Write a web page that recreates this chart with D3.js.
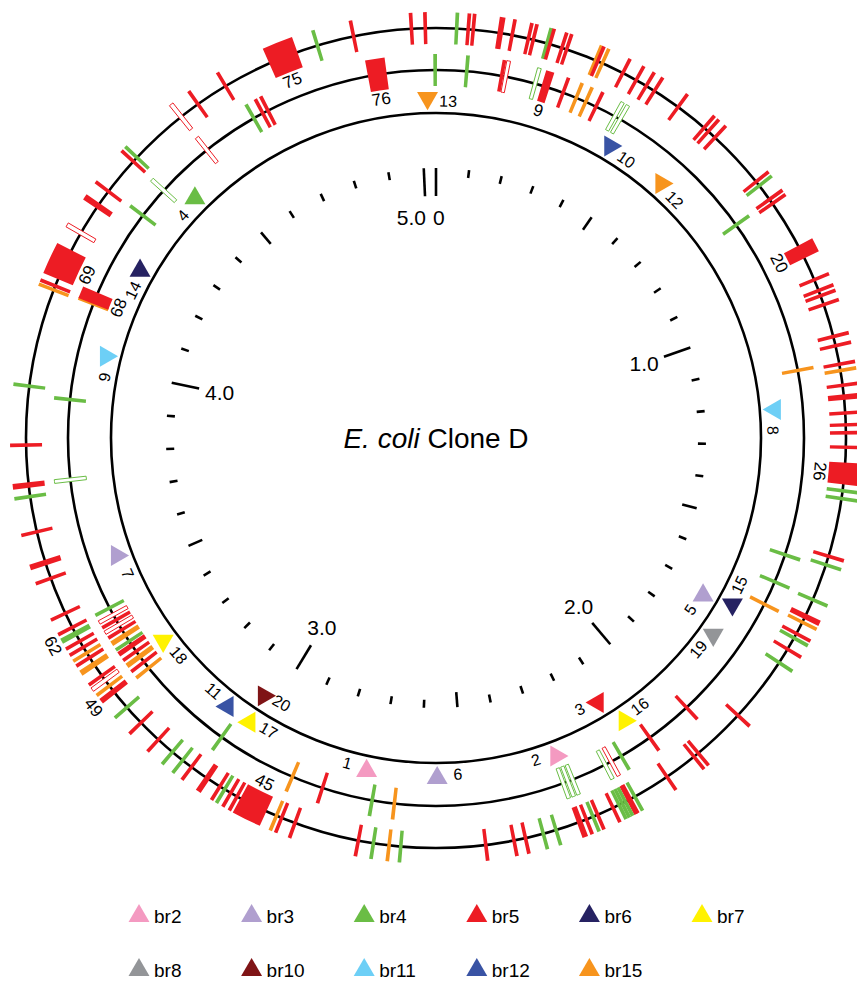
<!DOCTYPE html>
<html>
<head>
<meta charset="utf-8">
<script src="https://cdn.jsdelivr.net/npm/d3@7"></script>
<style>
  body { margin: 0; background: #fff; }
  text { font-family: "Liberation Sans", Arial, sans-serif; fill: #000; }
</style>
</head>
<body>
<svg id="chart" width="857" height="988"></svg>
<script>
// genome coordinate (Mb) -> angle (deg)
const genomeLength = 5.04
const tickMb = [0, 1, 2, 3, 4, 5, genomeLength]
const tickDeg = [0, 70.4, 139.8, 211.1, 281.8, 357.4, 360]

// [position Mb, length kb, type, style]
const outerFeatures = [
  [4.989, 6, 'red'], [5.017, 6, 'red'],
  [0.041, 6, 'green'], [0.064, 6, 'red'], [0.074, 6, 'red'], [0.128, 11, 'red'], [0.152, 6, 'red'],
  [0.185, 6, 'red'], [0.195, 6, 'red'], [0.223, 6, 'green'], [0.229, 6, 'red'], [0.254, 6, 'red'],
  [0.264, 6, 'red'], [0.325, 6, 'orange'], [0.330, 6, 'red'], [0.340, 6, 'orange'], [0.385, 6, 'red'],
  [0.415, 6, 'red'], [0.438, 6, 'red'], [0.457, 6, 'red'], [0.514, 6, 'red'], [0.580, 6, 'red'],
  [0.591, 6, 'red'], [0.609, 6, 'red'], [0.729, 6, 'red'], [0.739, 6, 'green'], [0.773, 6, 'red'],
  [0.783, 6, 'red'], [0.895, 28, 'red'], [0.956, 6, 'red'], [0.979, 6, 'red'], [0.990, 6, 'red'],
  [1.009, 6, 'red'], [1.076, 6, 'red'], [1.095, 6, 'red'], [1.133, 6, 'red'], [1.146, 6, 'orange'],
  [1.176, 6, 'red'], [1.200, 11, 'red'], [1.232, 6, 'red'], [1.256, 6, 'red'], [1.272, 6, 'red'],
  [1.301, 6, 'red'], [1.354, 44, 'red'], [1.389, 6, 'green'], [1.405, 6, 'green'], [1.524, 6, 'red'],
  [1.542, 6, 'green'], [1.617, 6, 'green'], [1.654, 11, 'red'], [1.667, 6, 'orange'], [1.693, 6, 'red'],
  [1.703, 6, 'green'], [1.729, 6, 'red'], [1.761, 6, 'green'], [1.896, 6, 'red'],
  [2.006, 6, 'red'], [2.017, 6, 'red'], [2.083, 6, 'red'], [2.157, 6, 'green'], [2.167, 6, 'red'],
  [2.171, 6, 'red'], [2.178, 6, 'green'], [2.185, 6, 'green'], [2.192, 6, 'green'], [2.205, 6, 'red'],
  [2.238, 6, 'red'], [2.248, 6, 'green'], [2.262, 6, 'red'], [2.276, 11, 'red'], [2.325, 6, 'green'],
  [2.351, 6, 'green'], [2.387, 6, 'red'], [2.410, 6, 'red'], [2.466, 6, 'red'], [2.633, 6, 'green'],
  [2.656, 6, 'orange'], [2.687, 6, 'green'], [2.717, 6, 'red'], [2.846, 6, 'red'], [2.874, 6, 'red'],
  [2.885, 6, 'orange'], [2.935, 57, 'red'], [2.971, 6, 'red'], [2.985, 6, 'red'], [2.999, 6, 'green'],
  [3.010, 6, 'red'], [3.040, 11, 'red'], [3.078, 6, 'red'], [3.100, 6, 'green'], [3.126, 6, 'green'],
  [3.163, 6, 'red'], [3.211, 6, 'red'], [3.252, 6, 'green'],
  [3.293, 11, 'red'], [3.307, 6, 'orange'], [3.321, 8, 'red', 'hollow'], [3.332, 6, 'red'],
  [3.359, 11, 'orange'], [3.375, 6, 'red'], [3.386, 6, 'orange'], [3.399, 6, 'red'], [3.413, 6, 'red'],
  [3.430, 11, 'green'], [3.444, 6, 'red'],
  [3.475, 6, 'red'], [3.550, 6, 'red'], [3.583, 11, 'red'], [3.646, 6, 'red'], [3.717, 6, 'green'],
  [3.740, 11, 'red'], [3.819, 6, 'red'], [3.936, 6, 'green'], [4.124, 5, 'orange'], [4.132, 6, 'red'],
  [4.175, 59, 'red'], [4.241, 8, 'red', 'hollow'], [4.300, 11, 'red'], [4.333, 6, 'red'], [4.405, 6, 'red'],
  [4.415, 6, 'green'], [4.526, 8, 'red', 'hollow'], [4.565, 6, 'red'], [4.626, 6, 'red'],
  [4.745, 56, 'red'], [4.812, 6, 'green'], [4.881, 6, 'red']
]

const middleFeatures = [
  [4.913, 39, 'red'], [5.038, 6, 'green'], [0.068, 6, 'green'], [0.146, 6, 'red'], [0.155, 6, 'red', 'hollow'],
  [0.222, 8, 'green', 'hollow'], [0.246, 18, 'red'], [0.287, 6, 'red'], [0.318, 6, 'orange'],
  [0.341, 6, 'orange'], [0.366, 6, 'red'], [0.413, 8, 'green', 'hollow'], [0.426, 8, 'green', 'hollow'],
  [0.776, 6, 'green'], [1.130, 6, 'orange'], [1.549, 6, 'green'], [1.614, 6, 'green'], [1.669, 6, 'orange'],
  [1.961, 6, 'red'], [2.066, 6, 'red'], [2.140, 6, 'green'], [2.165, 8, 'red', 'hollow'],
  [2.180, 8, 'green', 'hollow'], [2.258, 8, 'green', 'hollow'], [2.269, 8, 'green', 'hollow'],
  [2.280, 8, 'green', 'hollow'], [2.655, 6, 'orange'], [2.704, 6, 'green'], [2.816, 6, 'red'],
  [2.886, 6, 'orange'], [3.064, 6, 'green'],
  [3.286, 6, 'orange'], [3.303, 6, 'red'], [3.318, 11, 'orange'], [3.332, 6, 'red'], [3.348, 11, 'red'],
  [3.359, 6, 'green'], [3.375, 11, 'orange'], [3.389, 6, 'red'], [3.402, 8, 'red', 'hollow'],
  [3.414, 6, 'red'], [3.427, 8, 'red', 'hollow'], [3.444, 6, 'green'],
  [3.741, 8, 'green', 'hollow'], [3.918, 6, 'green'], [4.127, 5, 'orange'], [4.139, 25, 'red'],
  [4.336, 6, 'green'], [4.403, 8, 'green', 'hollow'], [4.525, 8, 'red', 'hollow'], [4.642, 6, 'green'],
  [4.663, 6, 'red'], [4.675, 6, 'red']
]

const featureLabels = [
  { text: '20', track: 'outer', pos: 0.895 },
  { text: '26', track: 'outer', pos: 1.354 },
  { text: '45', track: 'outer', pos: 2.935 },
  { text: '49', track: 'outer', pos: 3.293, outside: true },
  { text: '62', track: 'outer', pos: 3.430, outside: true },
  { text: '69', track: 'outer', pos: 4.175 },
  { text: '75', track: 'outer', pos: 4.745 },
  { text: '76', track: 'middle', pos: 4.913 },
  { text: '9', track: 'middle', pos: 0.246 },
  { text: '68', track: 'middle', pos: 4.139 }
]

// breakpoints: label, group, position Mb, ring, pointing, label side
const breakpoints = [
  { id: '13', group: 'br15', pos: 5.018, ring: 'out', dir: 'down', side: 1 },
  { id: '10', group: 'br12', pos: 0.438, ring: 'out', dir: 'right', side: 1 },
  { id: '12', group: 'br15', pos: 0.590, ring: 'out', dir: 'right', side: 1 },
  { id: '8', group: 'br11', pos: 1.213, ring: 'out', dir: 'left', side: 1 },
  { id: '15', group: 'br6', pos: 1.705, ring: 'out', dir: 'down', side: -1 },
  { id: '5', group: 'br3', pos: 1.722, ring: 'in', dir: 'up', side: 1 },
  { id: '19', group: 'br8', pos: 1.792, ring: 'out', dir: 'down', side: 1 },
  { id: '3', group: 'br5', pos: 2.123, ring: 'in', dir: 'left', side: 1 },
  { id: '16', group: 'br7', pos: 2.091, ring: 'out', dir: 'right', side: -1 },
  { id: '2', group: 'br2', pos: 2.273, ring: 'out', dir: 'right', side: 1 },
  { id: '6', group: 'br3', pos: 2.561, ring: 'out', dir: 'up', side: -1 },
  { id: '1', group: 'br2', pos: 2.729, ring: 'out', dir: 'up', side: 1 },
  { id: '17', group: 'br7', pos: 3.031, ring: 'out', dir: 'left', side: -1 },
  { id: '20', group: 'br10', pos: 3.037, ring: 'in', dir: 'right', side: -1 },
  { id: '11', group: 'br12', pos: 3.095, ring: 'out', dir: 'left', side: 1 },
  { id: '18', group: 'br7', pos: 3.315, ring: 'out', dir: 'down', side: -1 },
  { id: '7', group: 'br3', pos: 3.547, ring: 'out', dir: 'right', side: -1 },
  { id: '9', group: 'br11', pos: 4.028, ring: 'out', dir: 'right', side: -1 },
  { id: '14', group: 'br6', pos: 4.234, ring: 'out', dir: 'up', side: -1 },
  { id: '4', group: 'br4', pos: 4.437, ring: 'out', dir: 'up', side: -1 }
]

const groups = ['br2', 'br3', 'br4', 'br5', 'br6', 'br7', 'br8', 'br10', 'br11', 'br12', 'br15']
const groupColors = ['#f49ac1', '#b09fcf', '#6abd45', '#ed1c24', '#262262', '#fff200',
  '#939598', '#7f1416', '#6dcff6', '#3953a4', '#f7941d']

const cx = 436, cy = 438
const rInner = 325, rMid = 368, rOuter = 410
const ringR = { out: 340, in: 310 }
const minBarPx = 3.6

const svg = d3.select('#chart')
const g = svg.append('g').attr('transform', `translate(${cx},${cy})`)

const angle = d3.scaleLinear().domain(tickMb).range(tickDeg)
const typeColor = d3.scaleOrdinal().domain(['red', 'green', 'orange']).range(['#ed1c24', '#6abd45', '#f7941d'])
const groupColor = d3.scaleOrdinal().domain(groups).range(groupColors)

const rad = (a) => a * Math.PI / 180
const polar = (a, r) => [r * Math.sin(rad(a)), -r * Math.cos(rad(a))]
// keep text upright on the lower half
const upright = (a) => {
	a = ((a % 360) + 360) % 360
	if (a > 96 && a < 276) return a - 180
	return a > 180 ? a - 360 : a
}

// rings
g.selectAll('circle.ring')
	.data([rInner, rMid, rOuter])
	.join('circle')
		.attr('class', 'ring')
		.attr('r', (d) => d)
		.attr('fill', 'none')
		.attr('stroke', '#000')
		.attr('stroke-width', 2.6)

// scale ticks every 0.1 Mb
const ticks = d3.range(0, 51).map((i) => i / 10)
const tickIn = (d) => {
	const i = Math.round(d * 10)
	return i % 10 === 0 ? 242 : (i % 5 === 0 ? 255 : 262)
}
g.selectAll('line.tick')
	.data(ticks)
	.join('line')
		.attr('class', 'tick')
		.attr('x1', (d) => polar(angle(d), tickIn(d))[0])
		.attr('y1', (d) => polar(angle(d), tickIn(d))[1])
		.attr('x2', (d) => polar(angle(d), 270)[0])
		.attr('y2', (d) => polar(angle(d), 270)[1])
		.attr('stroke', '#000')
		.attr('stroke-width', 2.6)

const majors = [0, 1, 2, 3, 4, 5]
g.selectAll('text.tick-label')
	.data(majors)
	.join('text')
		.attr('class', 'tick-label')
		.attr('x', (d) => polar(angle(d), 221)[0] + (d === 0 ? -3 : 0))
		.attr('y', (d) => polar(angle(d), 221)[1])
		.attr('text-anchor', (d) => d === 0 ? 'start' : (d === 5 ? 'end' : 'middle'))
		.attr('dominant-baseline', 'central')
		.attr('font-size', 21)
		.text((d) => d === 0 ? '0' : d3.format('.1f')(d))

// feature tracks
const arc = d3.arc()
const drawTrack = (data, r, cls) => {
	const minDeg = minBarPx / r * 180 / Math.PI
	g.selectAll('path.' + cls)
		.data(data)
		.join('path')
			.attr('class', cls)
			.attr('d', (d) => {
				let a0 = angle(d[0] - d[1] / 2000)
				let a1 = angle(d[0] + d[1] / 2000)
				if (a1 - a0 < minDeg) {
					const m = (a0 + a1) / 2
					a0 = m - minDeg / 2
					a1 = m + minDeg / 2
				}
				return arc({ innerRadius: r - 16, outerRadius: r + 16, startAngle: rad(a0), endAngle: rad(a1) })
			})
			.attr('fill', (d) => d[3] === 'hollow' ? '#fff' : typeColor(d[2]))
			.attr('stroke', (d) => d[3] === 'hollow' ? typeColor(d[2]) : 'none')
			.attr('stroke-width', 1)
}
drawTrack(middleFeatures, rMid, 'mid-feature')
drawTrack(outerFeatures, rOuter, 'outer-feature')

const labelR = (d) => d.outside ? 436 : (d.track === 'outer' ? 385 : 343)
g.selectAll('text.feature-label')
	.data(featureLabels)
	.join('text')
		.attr('class', 'feature-label')
		.attr('font-size', 17)
		.attr('text-anchor', 'middle')
		.attr('dominant-baseline', 'central')
		.attr('transform', (d) => {
			const a = angle(d.pos)
			const [x, y] = polar(a, labelR(d))
			return `translate(${x},${y}) rotate(${upright(a)})`
		})
		.text((d) => d.text)

// breakpoint triangles
const tri = d3.symbol(d3.symbolTriangle, 190)
const dirRot = { up: 0, right: 90, down: 180, left: 270 }
g.selectAll('path.bp')
	.data(breakpoints)
	.join('path')
		.attr('class', 'bp')
		.attr('d', tri)
		.attr('fill', (d) => groupColor(d.group))
		.attr('transform', (d) => {
			const [x, y] = polar(angle(d.pos), ringR[d.ring])
			return `translate(${x},${y}) rotate(${dirRot[d.dir]})`
		})

g.selectAll('text.bp-label')
	.data(breakpoints)
	.join('text')
		.attr('class', 'bp-label')
		.attr('font-size', 16)
		.attr('text-anchor', 'middle')
		.attr('dominant-baseline', 'central')
		.attr('transform', (d) => {
			const a = angle(d.pos) + d.side * 3.5
			const [x, y] = polar(a, ringR[d.ring] - 3)
			return `translate(${x},${y}) rotate(${upright(a)})`
		})
		.text((d) => d.id)

// title
const title = g.append('text')
	.attr('text-anchor', 'middle')
	.attr('dominant-baseline', 'central')
	.attr('font-size', 28)
title.append('tspan').attr('font-style', 'italic').text('E. coli')
title.append('tspan').text(' Clone D')

// legend
const legendX = d3.scalePoint().domain(d3.range(6)).range([139, 702])
const legend = svg.append('g')
	.selectAll('g')
	.data(groups)
	.join('g')
		.attr('transform', (d, i) => `translate(${legendX(i % 6)},${i < 6 ? 916 : 970})`)

legend.append('path')
	.attr('d', tri)
	.attr('fill', (d) => groupColor(d))

legend.append('text')
	.attr('x', 15)
	.attr('dominant-baseline', 'central')
	.attr('font-size', 19)
	.text((d) => d)
</script>
</body>
</html>
